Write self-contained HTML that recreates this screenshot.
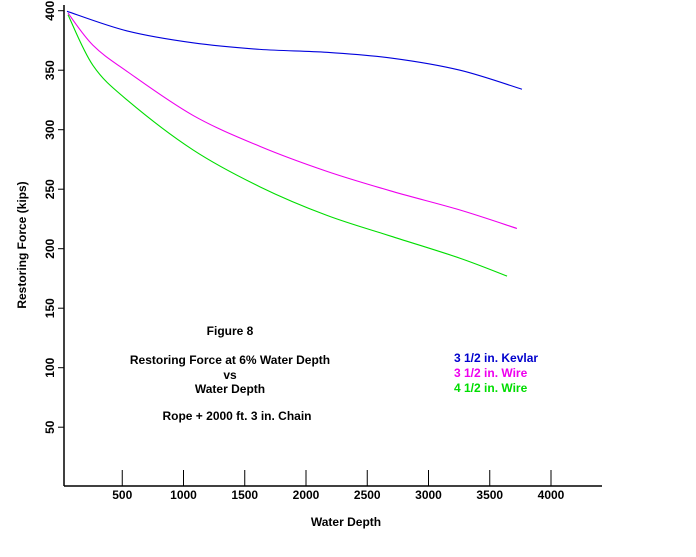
<!DOCTYPE html>
<html><head><meta charset="utf-8"><style>
body{margin:0;background:#fff}
svg text{font-family:"Liberation Sans",Arial,sans-serif;font-weight:bold;font-size:12px}
</style></head><body>
<svg width="696" height="552" viewBox="0 0 696 552">
<g id="axes"></g>
<g id="series"></g>
<g>
<text x="230" y="335" text-anchor="middle">Figure 8</text>
<text x="230" y="364" text-anchor="middle">Restoring Force at 6% Water Depth</text>
<text x="230" y="379" text-anchor="middle">vs</text>
<text x="230" y="393" text-anchor="middle">Water Depth</text>
<text x="237" y="420" text-anchor="middle">Rope + 2000 ft.  3 in. Chain</text>
</g>
<g>
<text x="454" y="362" fill="#0000cc">3 1/2 in. Kevlar</text>
<text x="454" y="377" fill="#ee00ee">3 1/2 in. Wire</text>
<text x="454" y="392" fill="#00dd00">4 1/2 in. Wire</text>
</g>
<text x="346" y="526" text-anchor="middle">Water Depth</text>
<text transform="translate(26,245) rotate(-90)" text-anchor="middle">Restoring Force (kips)</text>
</svg>
<script>
const xTicks=[500,1000,1500,2000,2500,3000,3500,4000];
const yTicks=[50,100,150,200,250,300,350,400];
const kevlarDepth=[49,539,1078,1624,2171,2710,3257,3763];
const kevlarForce=[399.5,383,373,367.5,365,360,350,334];
const wire35Depth=[57,261,539,1078,1624,2171,2710,3257,3722];
const wire35Force=[398,371,349,312,286,265,248,232.5,217];
const wire45Depth=[57,261,539,1078,1624,2171,2710,3257,3641];
const wire45Force=[396.6,354,325,283,252,228,210,192,177];
const X=v=>61+0.1225*v, Y=v=>10.7+(400-v)*1.19;
const NS='http://www.w3.org/2000/svg';
const axes=document.getElementById('axes'), ser=document.getElementById('series');
function mk(tag,at,parent){const e=document.createElementNS(NS,tag);for(const k in at)e.setAttribute(k,at[k]);parent.appendChild(e);return e;}
let e=mk('line',{x1:64,y1:5,x2:64,y2:486,stroke:'#000','stroke-width':1.5},axes);


e=mk('line',{x1:64,y1:486,x2:602,y2:486,stroke:'#000','stroke-width':1.5},axes);


xTicks.forEach(t=>{const x=X(t);
 let l=mk('line',{x1:x,y1:470,x2:x,y2:486,stroke:'#000'},axes);
 
 
 let tx=mk('text',{x:x,y:499,'text-anchor':'middle'},axes);tx.textContent=t;
 
 
});
yTicks.forEach(t=>{const y=Y(t);
 let l=mk('line',{x1:58,y1:y,x2:64,y2:y,stroke:'#000'},axes);
 
 
 let tx=mk('text',{transform:`translate(54,${y}) rotate(-90)`,'text-anchor':'middle'},axes);tx.textContent=t;
 
 
});
function path(dx,dy){const p=dx.map((d,i)=>[X(d),Y(dy[i])]);let s=`M${p[0][0]},${p[0][1]}`;
 for(let i=0;i<p.length-1;i++){const p0=p[Math.max(0,i-1)],p1=p[i],p2=p[i+1],p3=p[Math.min(p.length-1,i+2)];
 s+=` C${p1[0]+(p2[0]-p0[0])/6},${p1[1]+(p2[1]-p0[1])/6} ${p2[0]-(p3[0]-p1[0])/6},${p2[1]-(p3[1]-p1[1])/6} ${p2[0]},${p2[1]}`;}return s;}
[[kevlarDepth,kevlarForce,'#0000dd','kevlar-line'],[wire35Depth,wire35Force,'#ee00ee','wire-3-5-line'],[wire45Depth,wire45Force,'#00dd00','wire-4-5-line']].forEach(([a,b,c,n])=>{
 const p=mk('path',{d:path(a,b),fill:'none',stroke:c,'stroke-width':1.1},ser);
 
 
});
</script>
</body></html>
